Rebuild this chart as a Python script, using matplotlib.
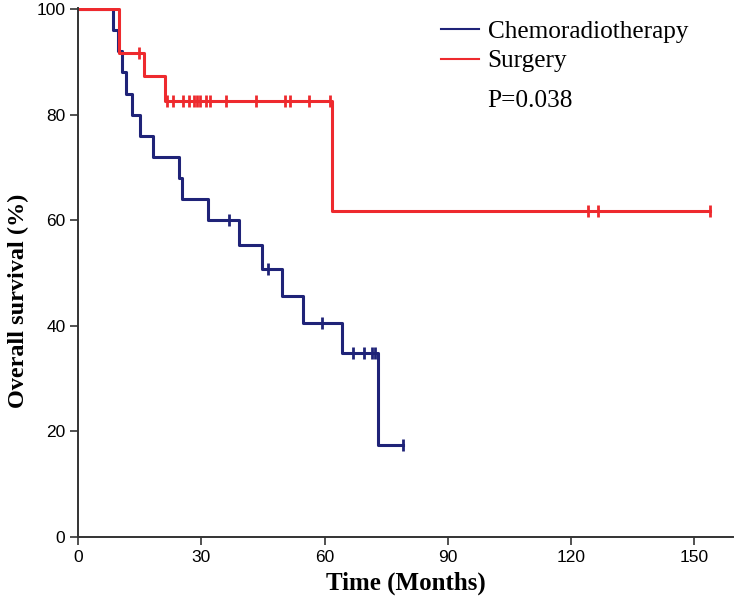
"""Kaplan-Meier overall survival: chemoradiotherapy vs surgery"""

import matplotlib
matplotlib.use("Agg")
import matplotlib.pyplot as plt
from matplotlib.lines import Line2D

# Chemoradiotherapy: step times (months) and survival after each step (%)
crt_times = [0, 8.6, 9.8, 10.8, 11.6, 13.1, 15.1, 18.3, 24.6, 25.3, 31.6,
             39.2, 44.7, 49.6, 54.7, 64.2, 73.0, 79.1]
crt_surv = [100, 96, 92, 88, 84, 80, 76, 72, 68, 64, 60,
            55.4, 50.8, 45.7, 40.6, 34.8, 17.4, 17.4]
crt_cens_t = [36.8, 46.3, 59.3, 67.0, 69.6, 71.5, 72.3, 79.1]
crt_cens_s = [60, 50.8, 40.6, 34.8, 34.8, 34.8, 34.8, 17.4]

# Surgery
srg_times = [0, 10.0, 16.1, 21.2, 61.7, 153.8]
srg_surv = [100, 91.7, 87.3, 82.5, 61.8, 61.8]
srg_cens_t = [14.8, 21.6, 23.0, 25.6, 27.0, 28.2, 29.0, 29.8, 31.2, 32.2,
              36.0, 43.2, 50.4, 51.6, 56.2, 61.3, 124.1, 126.5, 153.8]
srg_cens_s = [91.7] + [82.5] * 15 + [61.8] * 3

p_text = "P=0.038"
x_ticks = [0, 30, 60, 90, 120, 150]
y_ticks = [0, 20, 40, 60, 80, 100]

BLUE = "#1f2378"
RED = "#ee2a2e"
SERIF = ["Liberation Serif", "DejaVu Serif"]
NARROW = ["Liberation Sans Narrow", "Liberation Sans", "DejaVu Sans"]

fig = plt.figure(figsize=(7.35, 6.06), dpi=100)
ax = fig.add_axes([78 / 735, 69 / 606, 655 / 735, 529 / 606])

ax.step(crt_times, crt_surv, where="post", color=BLUE, lw=2.2)
ax.plot(crt_cens_t, crt_cens_s, "|", color=BLUE, ms=9, mew=2.0)
ax.step(srg_times, srg_surv, where="post", color=RED, lw=2.2)
ax.plot(srg_cens_t, srg_cens_s, "|", color=RED, ms=9, mew=2.0)

ax.set_xlim(0, 159.4)
ax.set_ylim(0, 100.2)
ax.set_xticks(x_ticks)
ax.set_yticks(y_ticks)
for lab in ax.get_xticklabels() + ax.get_yticklabels():
    lab.set_family(NARROW)
    lab.set_fontsize(12.5)
ax.tick_params(length=6, width=1.2, color="#333333", pad=3)

for s in ["top", "right"]:
    ax.spines[s].set_visible(False)
for s in ["left", "bottom"]:
    ax.spines[s].set_color("#333333")
    ax.spines[s].set_linewidth(1.4)

ax.set_xlabel("Time (Months)", family=SERIF, fontsize=18, fontweight="bold",
              labelpad=5)
ax.set_ylabel("Overall survival (%)", family=SERIF, fontsize=17.5,
              fontweight="bold")
# label sits a bit below the axis middle in the original
ax.yaxis.set_label_coords(-49 / 655, 0.446)

handles = [Line2D([], [], color=BLUE, lw=1.5),
           Line2D([], [], color=RED, lw=1.5)]
fig.legend(handles, ["Chemoradiotherapy", "Surgery"], loc="upper left",
           bbox_to_anchor=(428 / 735, 1 - 8 / 606), frameon=False,
           prop={"family": SERIF, "size": 18.2}, handlelength=1.5,
           handletextpad=0.36, labelspacing=0.25, borderpad=0.0)
fig.text(487 / 735, 1 - 101 / 606, p_text, family=SERIF, fontsize=18.2,
         va="center", ha="left")

fig.savefig("out.png", dpi=100)
